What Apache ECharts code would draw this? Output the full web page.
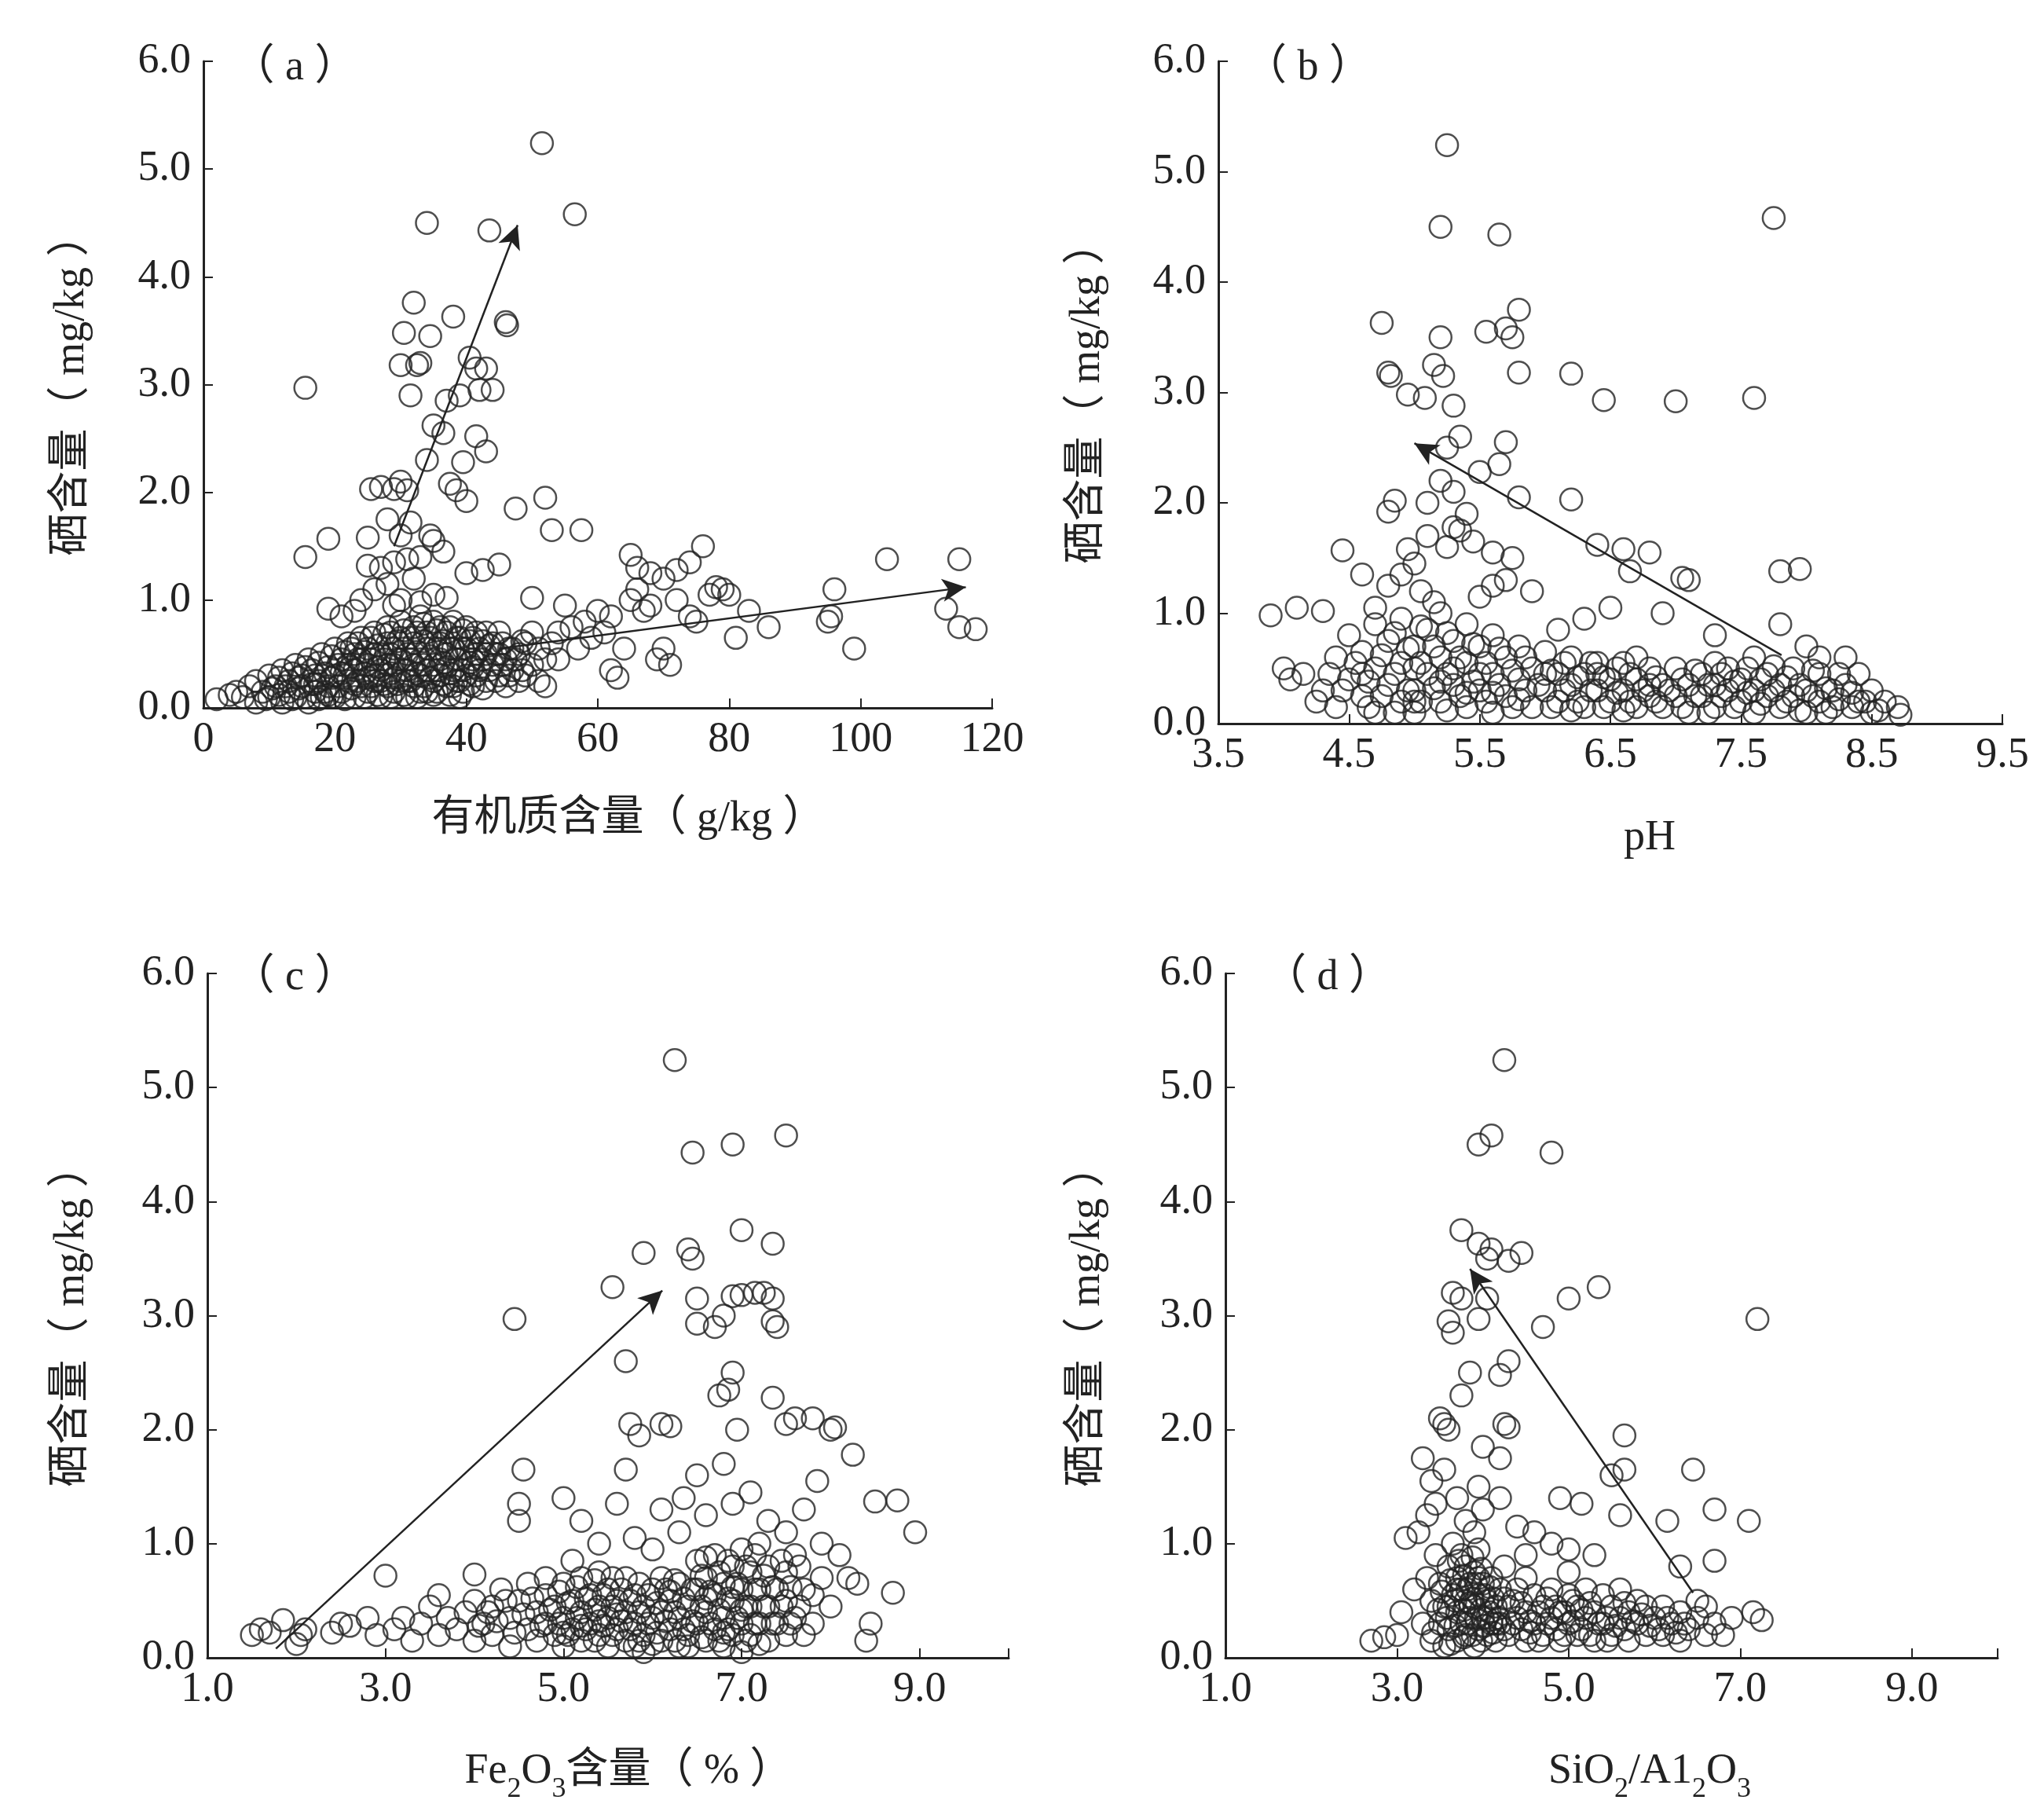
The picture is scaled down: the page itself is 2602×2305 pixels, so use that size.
<!DOCTYPE html>
<html>
<head>
<meta charset="utf-8">
<script src="https://cdn.jsdelivr.net/npm/echarts@6/dist/echarts.min.js"></script>
<style>html,body{margin:0;padding:0;background:#fff}#main{width:2602px;height:2305px}</style>
</head>
<body>
<div id="main"></div>
<script>
// (a) 有机质含量 vs 硒含量
var dataA = [
  [15.5,2.97],[51.5,5.24],[56.5,4.58],[34,4.5],[43.5,4.43],[46,3.58],[46.2,3.55],[32,3.76],[38,3.63],[30.5,3.48],
  [34.5,3.45],[30,3.18],[32.5,3.18],[33,3.2],[40.5,3.25],[41.5,3.15],[43,3.15],[31.5,2.9],[42,2.95],[44,2.95],
  [39,2.9],[37,2.85],[35,2.62],[36.5,2.55],[41.5,2.52],[43,2.38],[34,2.3],[39.5,2.28],[37.5,2.08],[38.5,2.02],
  [40,1.92],[47.5,1.85],[52,1.95],[25.5,2.03],[27,2.05],[29,2.03],[30,2.1],[31,2.02],[28,1.75],[31.5,1.72],
  [30,1.6],[34.5,1.6],[35,1.55],[36.5,1.45],[19,1.57],[25,1.58],[15.5,1.4],[53,1.65],[57.5,1.65],[25,1.32],
  [27,1.3],[29,1.35],[31,1.38],[33,1.4],[40,1.25],[42.5,1.28],[45,1.33],[50,1.02],[30,1.0],[35,1.05],
  [65,1.42],[66,1.3],[68,1.25],[70,1.2],[72,1.28],[74,1.35],[76,1.5],[78,1.12],[79,1.1],[80,1.05],
  [81,0.65],[83,0.9],[86,0.75],[95,0.8],[95.5,0.85],[96,1.1],[99,0.55],[104,1.38],[113,0.92],[115,1.38],
  [115,0.75],[117.5,0.73],[65,1.0],[67,0.9],[70,0.55],[71,0.4],[69,0.45],[72,1.0],[74,0.85],[60,0.9],
  [62,0.85],[58,0.8],[62,0.35],[63,0.28],[64,0.55],[55,0.95],[56,0.75],[53,0.6],[50,0.4],[48,0.25],
  [52,0.2],[45,0.5],[66,1.1],[68,0.95],[75,0.8],[77,1.05],[61,0.7],[59,0.65],[57,0.55],[54,0.45],
  [23,0.9],[21,0.85],[19,0.92],[26,1.1],[28,1.15],[32,1.2],[24,1.0],[29,0.95],[33,0.98],[37,1.02],
  [2,0.08],[4,0.12],[5,0.15],[6,0.1],[7,0.2],[8,0.05],[8,0.25],[9,0.15],[10,0.1],[10,0.3],
  [11,0.2],[12,0.05],[12,0.35],[13,0.15],[13,0.25],[14,0.1],[14,0.4],[15,0.2],[15,0.3],[16,0.05],
  [16,0.45],[17,0.15],[17,0.3],[18,0.1],[18,0.5],[19,0.2],[19,0.38],[20,0.1],[20,0.3],[20,0.55],
  [21,0.15],[21,0.45],[22,0.25],[22,0.6],[23,0.1],[23,0.35],[23,0.5],[24,0.2],[24,0.65],[25,0.15],
  [25,0.4],[25,0.55],[26,0.25],[26,0.7],[27,0.1],[27,0.35],[27,0.5],[28,0.2],[28,0.6],[28,0.75],
  [29,0.15],[29,0.4],[29,0.55],[30,0.25],[30,0.65],[30,0.8],[31,0.1],[31,0.35],[31,0.5],[32,0.2],
  [32,0.6],[32,0.75],[33,0.3],[33,0.45],[33,0.85],[34,0.15],[34,0.55],[34,0.7],[35,0.25],[35,0.4],
  [35,0.8],[36,0.3],[36,0.6],[36,0.75],[37,0.2],[37,0.5],[37,0.7],[38,0.35],[38,0.55],[38,0.8],
  [39,0.25],[39,0.45],[39,0.65],[40,0.3],[40,0.55],[40,0.75],[41,0.2],[41,0.45],[41,0.65],[42,0.35],
  [42,0.55],[43,0.25],[43,0.5],[43,0.7],[44,0.4],[44,0.6],[45,0.3],[45,0.7],[46,0.45],[46,0.2],
  [47,0.55],[47,0.35],[48,0.5],[49,0.6],[49,0.3],[50,0.7],[51,0.55],[52,0.45],[51,0.25],[54,0.7],
  [22,0.4],[24,0.45],[26,0.5],[28,0.4],[30,0.45],[32,0.4],[34,0.35],[36,0.45],[38,0.2],[26,0.3],
  // dense core
  [9.5,0.08],[10.5,0.18],[11.5,0.12],[11.5,0.28],[12.5,0.2],[13.5,0.08],[13.5,0.32],[14.5,0.18],[14.5,0.28],[15.5,0.1],
  [15.5,0.38],[16.5,0.22],[16.5,0.35],[17.5,0.08],[17.5,0.25],[17.5,0.42],[18.5,0.15],[18.5,0.32],[19.5,0.1],[19.5,0.28],
  [19.5,0.48],[20.5,0.2],[20.5,0.4],[21.5,0.08],[21.5,0.3],[21.5,0.52],[22.5,0.18],[22.5,0.38],[22.5,0.55],[23.5,0.25],
  [23.5,0.45],[23.5,0.6],[24.5,0.1],[24.5,0.32],[24.5,0.52],[25.5,0.2],[25.5,0.45],[25.5,0.65],[26.5,0.12],[26.5,0.38],
  [26.5,0.58],[27.5,0.22],[27.5,0.45],[27.5,0.68],[28.5,0.1],[28.5,0.32],[28.5,0.5],[28.5,0.7],[29.5,0.22],[29.5,0.45],
  [29.5,0.62],[30.5,0.12],[30.5,0.35],[30.5,0.55],[30.5,0.72],[31.5,0.25],[31.5,0.45],[31.5,0.65],[32.5,0.1],[32.5,0.32],
  [32.5,0.52],[32.5,0.7],[33.5,0.2],[33.5,0.4],[33.5,0.62],[33.5,0.78],[34.5,0.28],[34.5,0.48],[34.5,0.65],[35.5,0.15],
  [35.5,0.35],[35.5,0.55],[35.5,0.72],[36.5,0.22],[36.5,0.42],[36.5,0.62],[37.5,0.12],[37.5,0.32],[37.5,0.55],[37.5,0.75],
  [38.5,0.25],[38.5,0.45],[38.5,0.65],[39.5,0.15],[39.5,0.35],[39.5,0.55],[39.5,0.72],[40.5,0.22],[40.5,0.42],[40.5,0.62],
  [41.5,0.3],[41.5,0.5],[41.5,0.7],[42.5,0.18],[42.5,0.45],[42.5,0.62],[43.5,0.35],[43.5,0.58],[44.5,0.25],[44.5,0.5],
  [45.5,0.4],[45.5,0.6],[46.5,0.3],[46.5,0.55],[47.5,0.45],[48.5,0.35],[48.5,0.62],[27,0.25],[29,0.28],[31,0.25],
  [33,0.15],[35,0.12],[37,0.38],[39,0.1],[41,0.38],[25,0.28],[23,0.22],[21,0.32],[19,0.12],[17,0.22]
];
// (b) pH vs 硒含量
var dataB = [
  [5.25,5.24],[5.2,4.5],[5.65,4.43],[7.75,4.58],[4.75,3.63],[5.8,3.75],[5.7,3.58],[5.75,3.5],[5.2,3.5],[5.55,3.55],
  [4.8,3.18],[4.82,3.15],[5.15,3.25],[5.22,3.15],[5.3,2.88],[4.95,2.98],[5.08,2.95],[5.8,3.18],[6.2,3.17],[6.45,2.93],
  [7.0,2.92],[7.6,2.95],[5.35,2.6],[5.7,2.55],[5.25,2.5],[5.65,2.35],[5.5,2.28],[5.2,2.2],[5.3,2.1],[5.1,2.0],
  [4.8,1.92],[4.85,2.02],[5.8,2.05],[6.2,2.03],[5.4,1.9],[5.35,1.75],[5.3,1.78],[5.1,1.7],[5.25,1.6],[5.45,1.65],
  [5.6,1.55],[5.75,1.5],[6.4,1.62],[6.6,1.58],[6.8,1.55],[4.45,1.57],[6.65,1.38],[7.1,1.3],[7.05,1.32],[7.8,1.38],
  [7.95,1.4],[6.5,1.05],[6.9,1.0],[5.9,1.2],[4.95,1.58],[5.0,1.45],[4.9,1.35],[4.6,1.35],[4.8,1.25],[5.05,1.2],
  [3.9,0.98],[4.1,1.05],[4.3,1.02],[4.0,0.5],[4.05,0.4],[4.15,0.45],[7.8,0.9],[7.3,0.8],[8.0,0.7],[8.3,0.6],
  [8.6,0.2],[8.7,0.15],[8.72,0.08],[5.6,1.25],[5.7,1.3],[5.5,1.15],[5.15,1.1],[4.7,1.05],[6.3,0.95],[6.1,0.85],
  [4.3,0.3],[4.4,0.6],[4.4,0.15],[4.5,0.8],[4.5,0.4],[4.6,0.25],[4.6,0.65],[4.7,0.9],[4.7,0.1],[4.7,0.5],
  [4.8,0.35],[4.8,0.75],[4.9,0.2],[4.9,0.55],[4.9,0.95],[5.0,0.3],[5.0,0.7],[5.0,0.1],[5.1,0.45],[5.1,0.85],
  [5.2,0.2],[5.2,0.6],[5.2,1.0],[5.3,0.35],[5.3,0.75],[5.4,0.15],[5.4,0.55],[5.4,0.9],[5.5,0.3],[5.5,0.7],
  [5.6,0.1],[5.6,0.45],[5.6,0.8],[5.7,0.25],[5.7,0.6],[5.8,0.4],[5.8,0.7],[5.9,0.15],[5.9,0.5],[6.0,0.3],
  [6.0,0.65],[6.1,0.2],[6.1,0.45],[6.2,0.35],[6.2,0.6],[6.3,0.15],[6.3,0.45],[6.4,0.3],[6.4,0.55],[6.5,0.2],
  [6.5,0.4],[6.6,0.3],[6.6,0.55],[6.7,0.15],[6.7,0.4],[6.8,0.25],[6.8,0.5],[6.9,0.35],[6.9,0.15],[7.0,0.25],
  [7.0,0.5],[7.1,0.35],[7.1,0.1],[7.2,0.25],[7.2,0.45],[7.3,0.15],[7.3,0.35],[7.4,0.3],[7.4,0.5],[7.5,0.2],
  [7.5,0.4],[7.6,0.1],[7.6,0.3],[7.7,0.25],[7.7,0.45],[7.8,0.15],[7.8,0.35],[7.9,0.25],[7.9,0.5],[8.0,0.1],
  [8.0,0.3],[8.1,0.2],[8.1,0.45],[8.2,0.3],[8.2,0.15],[8.3,0.35],[8.4,0.2],[8.4,0.45],[8.5,0.1],[8.5,0.3],
  [4.6,0.45],[5.0,0.5],[5.3,0.5],[5.5,0.45],[6.7,0.6],[7.3,0.55],[7.6,0.6],[8.1,0.6],[4.25,0.2],[4.35,0.45],
  // dense core
  [4.45,0.3],[4.55,0.55],[4.65,0.15],[4.65,0.38],[4.75,0.25],[4.75,0.62],[4.85,0.1],[4.85,0.45],[4.85,0.82],[4.95,0.3],
  [4.95,0.68],[5.05,0.2],[5.05,0.55],[5.05,0.88],[5.15,0.32],[5.15,0.7],[5.25,0.12],[5.25,0.45],[5.25,0.82],[5.35,0.25],
  [5.35,0.6],[5.45,0.38],[5.45,0.72],[5.55,0.2],[5.55,0.55],[5.65,0.35],[5.65,0.68],[5.75,0.15],[5.75,0.48],[5.85,0.3],
  [5.85,0.6],[5.95,0.35],[6.05,0.15],[6.05,0.48],[6.15,0.3],[6.15,0.55],[6.25,0.2],[6.25,0.42],[6.35,0.3],[6.35,0.55],
  [6.45,0.15],[6.45,0.42],[6.55,0.28],[6.55,0.5],[6.65,0.2],[6.65,0.45],[6.75,0.3],[6.85,0.2],[6.85,0.42],[6.95,0.3],
  [7.05,0.15],[7.05,0.4],[7.15,0.25],[7.15,0.48],[7.25,0.1],[7.25,0.35],[7.35,0.25],[7.35,0.45],[7.45,0.15],[7.45,0.38],
  [7.55,0.28],[7.55,0.5],[7.65,0.18],[7.65,0.4],[7.75,0.3],[7.75,0.52],[7.85,0.2],[7.85,0.42],[7.95,0.12],[7.95,0.35],
  [8.05,0.25],[8.05,0.48],[8.15,0.1],[8.15,0.32],[8.25,0.22],[8.25,0.45],[8.35,0.15],[8.35,0.28],[8.45,0.2],[8.55,0.12],
  [5.0,0.2],[5.2,0.38],[5.4,0.28],[5.6,0.28],[5.8,0.22],[6.0,0.45],[6.2,0.12],[6.4,0.45],[6.6,0.12],[6.8,0.35]
];
// (c) Fe2O3含量 vs 硒含量
var dataC = [
  [6.25,5.24],[7.5,4.58],[6.9,4.5],[6.45,4.43],[4.45,2.97],[5.9,3.55],[6.4,3.58],[6.45,3.5],[7.0,3.75],[7.35,3.63],
  [5.55,3.25],[6.5,3.15],[7.0,3.18],[7.15,3.2],[7.25,3.2],[7.35,3.15],[7.35,2.95],[7.4,2.9],[6.5,2.93],[6.7,2.9],
  [6.8,3.0],[6.9,3.17],[6.9,2.5],[6.85,2.35],[6.75,2.3],[5.7,2.6],[7.35,2.28],[5.75,2.05],[5.85,1.95],[6.1,2.05],
  [6.2,2.03],[6.95,2.0],[7.6,2.1],[7.8,2.1],[8.0,2.0],[8.05,2.02],[7.5,2.05],[8.25,1.78],[7.85,1.55],[4.55,1.65],
  [4.5,1.35],[4.5,1.2],[5.0,1.4],[5.2,1.2],[5.6,1.35],[5.7,1.65],[6.5,1.6],[6.35,1.4],[6.8,1.7],[8.5,1.37],
  [8.75,1.38],[8.95,1.1],[8.7,0.57],[8.45,0.3],[8.4,0.15],[8.3,0.65],[3.0,0.72],[4.0,0.73],[1.5,0.2],[1.6,0.25],
  [1.7,0.22],[1.85,0.33],[2.0,0.12],[2.05,0.2],[2.1,0.25],[2.4,0.22],[2.5,0.3],[2.6,0.28],[2.8,0.35],[2.9,0.2],
  [6.1,1.3],[6.3,1.1],[6.6,1.25],[6.9,1.35],[7.1,1.45],[7.3,1.2],[7.5,1.1],[7.7,1.3],[7.9,1.0],[8.1,0.9],
  [5.4,1.0],[5.8,1.05],[6.0,0.95],[7.2,1.0],[7.6,0.9],[8.2,0.7],[8.0,0.45],[7.8,0.3],[5.1,0.85],[4.8,0.7],
  [3.1,0.25],[3.2,0.35],[3.3,0.15],[3.4,0.3],[3.5,0.45],[3.6,0.2],[3.6,0.55],[3.7,0.35],[3.8,0.25],[3.9,0.4],
  [4.0,0.15],[4.0,0.5],[4.1,0.3],[4.2,0.45],[4.2,0.2],[4.3,0.6],[4.4,0.35],[4.4,0.1],[4.5,0.5],[4.6,0.25],
  [4.6,0.65],[4.7,0.4],[4.7,0.15],[4.8,0.3],[4.8,0.55],[4.9,0.2],[4.9,0.45],[5.0,0.1],[5.0,0.35],[5.0,0.65],
  [5.1,0.25],[5.1,0.5],[5.2,0.15],[5.2,0.4],[5.2,0.7],[5.3,0.3],[5.3,0.55],[5.4,0.2],[5.4,0.45],[5.4,0.75],
  [5.5,0.1],[5.5,0.35],[5.5,0.6],[5.6,0.25],[5.6,0.5],[5.7,0.15],[5.7,0.4],[5.7,0.7],[5.8,0.3],[5.8,0.55],
  [5.9,0.05],[5.9,0.2],[5.9,0.45],[6.0,0.35],[6.0,0.6],[6.1,0.15],[6.1,0.4],[6.1,0.7],[6.2,0.25],[6.2,0.5],
  [6.3,0.1],[6.3,0.35],[6.3,0.65],[6.4,0.2],[6.4,0.45],[6.5,0.3],[6.5,0.6],[6.5,0.85],[6.6,0.15],[6.6,0.4],
  [6.6,0.7],[6.7,0.25],[6.7,0.55],[6.7,0.9],[6.8,0.1],[6.8,0.35],[6.8,0.65],[6.9,0.2],[6.9,0.5],[6.9,0.8],
  [7.0,0.05],[7.0,0.3],[7.0,0.6],[7.0,0.95],[7.1,0.2],[7.1,0.45],[7.1,0.75],[7.2,0.3],[7.2,0.6],[7.3,0.15],
  [7.3,0.45],[7.3,0.8],[7.4,0.3],[7.4,0.6],[7.5,0.2],[7.5,0.5],[7.5,0.75],[7.6,0.35],[7.7,0.6],[7.7,0.2],
  // dense core
  [4.05,0.28],[4.15,0.4],[4.25,0.32],[4.35,0.5],[4.45,0.22],[4.55,0.38],[4.65,0.52],[4.75,0.28],[4.85,0.42],[4.95,0.3],
  [4.95,0.58],[5.05,0.2],[5.05,0.48],[5.15,0.35],[5.15,0.62],[5.25,0.25],[5.25,0.52],[5.35,0.15],[5.35,0.42],[5.35,0.68],
  [5.45,0.28],[5.45,0.55],[5.55,0.2],[5.55,0.45],[5.55,0.7],[5.65,0.32],[5.65,0.6],[5.75,0.25],[5.75,0.5],[5.85,0.15],
  [5.85,0.4],[5.85,0.65],[5.95,0.3],[5.95,0.55],[6.05,0.22],[6.05,0.48],[6.15,0.32],[6.15,0.6],[6.25,0.15],[6.25,0.4],
  [6.25,0.68],[6.35,0.25],[6.35,0.52],[6.45,0.32],[6.45,0.6],[6.55,0.18],[6.55,0.45],[6.55,0.72],[6.65,0.3],[6.65,0.58],
  [6.75,0.15],[6.75,0.42],[6.75,0.75],[6.85,0.25],[6.85,0.52],[6.85,0.85],[6.95,0.35],[6.95,0.65],[7.05,0.15],[7.05,0.45],
  [7.05,0.8],[7.15,0.3],[7.15,0.6],[7.15,0.9],[7.25,0.45],[7.25,0.72],[7.35,0.3],[7.35,0.62],[7.45,0.45],[7.45,0.85],
  [7.55,0.3],[7.55,0.62],[7.65,0.45],[7.65,0.8],[7.8,0.55],[7.9,0.7],[5.2,0.28],[5.6,0.38],[6.0,0.12],[6.4,0.1],
  [6.6,0.52],[6.8,0.22],[7.0,0.42],[7.2,0.12],[5.0,0.22],[5.4,0.32],[5.8,0.1],[6.2,0.58],[6.6,0.88],[6.9,0.62]
];
// (d) SiO2/Al2O3 vs 硒含量
var dataD = [
  [4.25,5.24],[4.1,4.58],[3.95,4.5],[4.8,4.43],[3.75,3.75],[3.95,3.63],[4.1,3.58],[4.05,3.5],[4.3,3.48],[4.45,3.55],
  [3.65,3.2],[3.75,3.15],[4.05,3.15],[5.0,3.15],[5.35,3.25],[3.6,2.95],[3.65,2.85],[3.95,2.97],[4.3,2.6],[4.7,2.9],
  [3.85,2.5],[4.2,2.48],[3.5,2.1],[3.55,2.05],[3.6,2.0],[3.75,2.3],[4.25,2.05],[4.3,2.02],[5.65,1.95],[4.0,1.85],
  [4.2,1.75],[3.3,1.75],[3.4,1.55],[3.45,1.35],[3.55,1.65],[3.95,1.5],[4.2,1.4],[4.9,1.4],[5.15,1.35],[5.5,1.6],
  [5.65,1.65],[5.6,1.25],[6.45,1.65],[6.15,1.2],[6.3,0.8],[6.7,1.3],[6.7,0.85],[7.1,1.2],[7.2,2.97],[7.15,0.4],
  [7.25,0.33],[2.7,0.15],[2.85,0.18],[3.0,0.2],[3.05,0.4],[3.2,0.6],[3.1,1.05],[3.25,1.1],[3.35,1.25],[3.7,1.4],
  [3.8,1.2],[3.9,1.1],[4.0,1.3],[4.4,1.15],[4.6,1.1],[4.8,1.0],[5.0,0.95],[5.3,0.9],[4.5,0.9],[6.5,0.5],
  [3.3,0.3],[3.35,0.7],[3.4,0.15],[3.4,0.5],[3.45,0.9],[3.5,0.3],[3.5,0.65],[3.55,0.1],[3.55,0.45],[3.6,0.8],
  [3.6,0.25],[3.65,0.55],[3.65,1.0],[3.7,0.15],[3.7,0.4],[3.7,0.7],[3.75,0.3],[3.75,0.6],[3.75,0.9],[3.8,0.2],
  [3.8,0.5],[3.8,0.8],[3.85,0.35],[3.85,0.65],[3.9,0.1],[3.9,0.45],[3.9,0.75],[3.95,0.25],[3.95,0.55],[3.95,0.95],
  [4.0,0.35],[4.0,0.65],[4.05,0.2],[4.05,0.5],[4.1,0.3],[4.1,0.7],[4.15,0.15],[4.15,0.45],[4.2,0.3],[4.2,0.6],
  [4.3,0.2],[4.3,0.45],[4.4,0.35],[4.4,0.6],[4.5,0.15],[4.5,0.4],[4.6,0.3],[4.6,0.55],[4.7,0.2],[4.7,0.45],
  [4.8,0.35],[4.8,0.6],[4.9,0.15],[4.9,0.4],[5.0,0.3],[5.0,0.55],[5.1,0.2],[5.1,0.45],[5.2,0.35],[5.2,0.6],
  [5.3,0.15],[5.3,0.4],[5.4,0.3],[5.4,0.55],[5.5,0.2],[5.5,0.45],[5.6,0.35],[5.6,0.6],[5.7,0.15],[5.7,0.4],
  [5.8,0.3],[5.8,0.5],[5.9,0.2],[5.9,0.45],[6.0,0.35],[6.1,0.2],[6.1,0.45],[6.2,0.3],[6.3,0.15],[6.3,0.4],
  [6.4,0.25],[6.5,0.35],[6.6,0.2],[6.6,0.45],[6.7,0.3],[6.8,0.2],[6.9,0.35],[4.25,0.8],[4.5,0.7],[5.0,0.75],
  // dense core
  [3.42,0.22],[3.48,0.42],[3.52,0.58],[3.58,0.35],[3.62,0.12],[3.62,0.68],[3.68,0.28],[3.68,0.5],[3.72,0.85],[3.78,0.18],
  [3.78,0.42],[3.78,0.72],[3.82,0.3],[3.82,0.6],[3.88,0.2],[3.88,0.52],[3.88,0.88],[3.92,0.35],[3.92,0.65],[3.98,0.15],
  [3.98,0.42],[3.98,0.78],[4.02,0.28],[4.02,0.55],[4.08,0.4],[4.08,0.62],[4.12,0.22],[4.12,0.52],[4.18,0.35],[4.25,0.25],
  [4.25,0.52],[4.35,0.3],[4.35,0.5],[4.45,0.25],[4.45,0.48],[4.55,0.32],[4.55,0.22],[4.65,0.4],[4.65,0.15],[4.75,0.3],
  [4.75,0.52],[4.85,0.25],[4.85,0.45],[4.95,0.2],[4.95,0.4],[5.05,0.32],[5.05,0.5],[5.15,0.25],[5.15,0.42],[5.25,0.2],
  [5.25,0.48],[5.35,0.3],[5.45,0.35],[5.45,0.15],[5.55,0.28],[5.65,0.25],[5.65,0.48],[5.75,0.32],[5.85,0.38],[5.95,0.28],
  [6.05,0.25],[6.15,0.35],[6.25,0.22],[6.35,0.3],[3.6,0.45],[3.7,0.6],[3.85,0.48],[3.95,0.7],[4.05,0.35],[4.15,0.3]
];
// 箭头 [起点, 终点]
var arrowA1 = [[29,1.5],[47.8,4.48]];
var arrowA2 = [[45,0.55],[116,1.12]];
var arrowB = [[7.81,0.62],[5.0,2.54]];
var arrowC = [[1.77,0.08],[6.11,3.22]];
var arrowD = [[6.45,0.57],[3.85,3.41]];
var yTicks = [0,1,2,3,4,5,6];

var chart = echarts.init(document.getElementById('main'));
var ink = '#222';
var serif = '"Liberation Serif","DejaVu Serif",serif';
var cjk = '"Liberation Serif","Noto Sans CJK SC",serif';

var grids = [
  {left:259, top:78, width:1004, height:823},
  {left:1551, top:78, width:998, height:843},
  {left:264, top:1239, width:1020, height:871},
  {left:1560, top:1239, width:983, height:871}
];
var xRange = [[0,120,20],[3.5,9.5,1],[1,10,2],[1,10,2]];

function axisBase() {
  return {
    axisLine:{show:true, onZero:false, lineStyle:{color:ink, width:3}},
    axisTick:{show:true, inside:true, length:12, lineStyle:{color:ink, width:2}},
    splitLine:{show:false}
  };
}
var xAxes = xRange.map(function(r, i){
  var a = axisBase();
  a.type = 'value'; a.gridIndex = i; a.min = r[0]; a.max = r[1]; a.interval = r[2];
  a.axisLabel = {color:ink, fontFamily:serif, fontSize:54, margin:14,
    formatter: function(v){
      if (i == 0) return v;
      if (i >= 2 && v == 10) return '';
      return v.toFixed(1);
    }};
  return a;
});
var yAxes = grids.map(function(g, i){
  var a = axisBase();
  a.type = 'value'; a.gridIndex = i; a.min = yTicks[0]; a.max = yTicks[yTicks.length-1]; a.interval = 1;
  a.axisLabel = {color:ink, fontFamily:serif, fontSize:54, margin:16, formatter:function(v){return v.toFixed(1);}};
  return a;
});

function arrowLine(p) {
  return {
    silent:true, symbol:['none','arrow'], symbolSize:[22,30],
    label:{show:false}, lineStyle:{color:ink, type:'solid', width:2.5},
    data: p.map(function(a){ return [{coord:a[0]},{coord:a[1]}]; })
  };
}
var sets = [dataA, dataB, dataC, dataD];
var arrows = [[arrowA1, arrowA2],[arrowB],[arrowC],[arrowD]];
var series = sets.map(function(d, i){
  return {
    type:'scatter', xAxisIndex:i, yAxisIndex:i, data:d, symbol:'circle', symbolSize:28,
    itemStyle:{color:'rgba(255,255,255,0)', borderColor:ink, borderWidth:2.5},
    markLine: arrowLine(arrows[i]), animation:false
  };
});

var txt = {fill:ink, font:'54px ' + cjk, textAlign:'center', textVerticalAlign:'middle'};
function label(x, y, text, rot) {
  return {type:'text', x:x, y:y, rotation:rot || 0, style:Object.assign({}, txt, {text:text,
    rich:{a:{fontSize:54, fontFamily:cjk, fill:ink}, s:{fontSize:36, fontFamily:serif, fill:ink, verticalAlign:'bottom', padding:[0,0,-14,0]}}})};
}
var graphics = [
  label(375, 87, '（ a ）'), label(1665, 87, '（ b ）'),
  label(375, 1245, '（ c ）'), label(1690, 1245, '（ d ）'),
  label(92, 490, '硒含量（ mg/kg ）', Math.PI/2), label(1385, 500, '硒含量（ mg/kg ）', Math.PI/2),
  label(92, 1675, '硒含量（ mg/kg ）', Math.PI/2), label(1385, 1675, '硒含量（ mg/kg ）', Math.PI/2),
  label(800, 1043, '有机质含量（ g/kg ）'), label(2100, 1067, 'pH'),
  label(800, 2255, '{a|Fe}{s|2}{a|O}{s|3}{a|含量（ % ）}'), label(2100, 2255, '{a|SiO}{s|2}{a|/A1}{s|2}{a|O}{s|3}')
];

chart.setOption({
  backgroundColor:'#fff', animation:false,
  grid:grids, xAxis:xAxes, yAxis:yAxes, series:series, graphic:graphics
});
</script>
</body>
</html>
